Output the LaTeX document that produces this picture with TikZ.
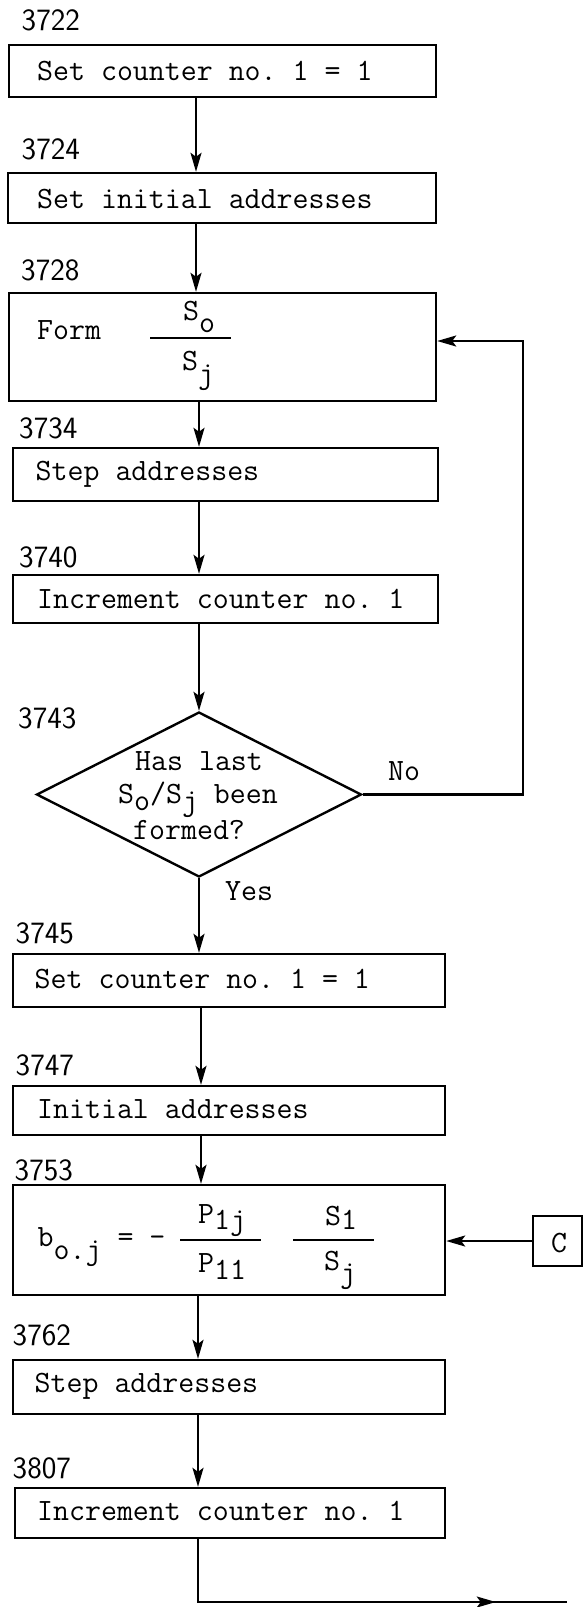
\documentclass[tikz,border=0pt]{standalone}
\usepackage{fontspec}
\usetikzlibrary{arrows.meta,shapes.geometric,decorations.markings}
\newcommand\lo[2][0.35em]{\raisebox{-#1}{#2}}
\begin{document}
\begin{tikzpicture}[x=1pt,y=-1pt,
  tt/.style={font=\fontsize{31}{34}\selectfont\ttfamily\frenchspacing, inner sep=0pt, anchor=base west},
  lbl/.style={font=\fontsize{31}{34}\selectfont\sffamily, inner sep=0pt, anchor=base west},
  ebox/.style={draw, line width=2.4pt, inner sep=0pt},
  arr/.style={line width=2.1pt, -{Stealth[length=19pt,width=11pt,inset=4pt]}},
  ln/.style={line width=2.1pt}]
\useasboundingbox (0,0) rectangle (584,1607);

% columns for the connectors
\coordinate (X1) at (196,0);
\coordinate (X2) at (199,0);
\coordinate (X3) at (201,0);
\coordinate (X4) at (198,0);

% labels
\node[lbl] (l1) at (21.5,30) {3722};
\node[lbl] (l2) at (21.5,159) {3724};
\node[lbl] (l3) at (21,280) {3728};
\node[lbl] (l4) at (19,438) {3734};
\node[lbl] (l5) at (19,567) {3740};
\node[lbl] (l6) at (18,728) {3743};
\node[lbl] (l7) at (15.5,943) {3745};
\node[lbl] (l8) at (15.5,1075) {3747};
\node[lbl] (l9) at (14.5,1180) {3753};
\node[lbl] (l10) at (12.5,1345) {3762};
\node[lbl] (l11) at (12.5,1478) {3807};

% boxes
\node[ebox, minimum width=427pt, minimum height=52pt] (b1) at (222.5,71) {};
\node[ebox, minimum width=428pt, minimum height=50pt] (b2) at (222,198) {};
\node[ebox, minimum width=427pt, minimum height=108pt] (b3) at (222.5,347) {};
\node[ebox, minimum width=425pt, minimum height=53pt] (b4) at (225.5,474.5) {};
\node[ebox, minimum width=425pt, minimum height=48pt] (b5) at (225.5,599) {};
\node[draw, diamond, line width=2.4pt, minimum width=325pt, minimum height=165pt, inner sep=0pt] (dia) at (199,794.5) {};
\node[ebox, minimum width=432pt, minimum height=53pt] (b6) at (229,980.5) {};
\node[ebox, minimum width=432pt, minimum height=49pt] (b7) at (229,1110.5) {};
\node[ebox, minimum width=432pt, minimum height=110pt] (b8) at (229,1240) {};
\node[ebox, minimum width=49pt, minimum height=50pt] (cbox) at (557.5,1241) {};
\node[ebox, minimum width=432pt, minimum height=54pt] (b9) at (229,1387) {};
\node[ebox, minimum width=430pt, minimum height=50pt] (b10) at (230,1513) {};

% box texts
\node[tt] (t1) at (37,80) {Set counter no. 1 = 1};
\node[tt] (t2) at (37,208) {Set initial addresses};
\node[tt] (t4) at (35.5,480) {Step addresses};
\node[tt] (t5) at (37,608) {Increment counter no. 1};
\node[tt] (t6) at (34.5,988) {Set counter no. 1 = 1};
\node[tt] (t7) at (37,1118) {Initial addresses};
\node[tt] (t9) at (34.5,1392) {Step addresses};
\node[tt] (t10) at (37,1520) {Increment counter no. 1};
\node[tt] (tc) at (551,1252) {C};

% contents of the Form box
\node[tt] (form) at (37,339) {Form};
\node[tt] (fnum) at (183,320) {S\lo[0.4em]{o}};
\node[tt] (fden) at (182,370) {S\lo[0.45em]{j}};
\draw[ln] (150,338) -- (231,338);

% contents of the diamond
\node[tt] (d1) at (135,770) {Has last};
\node[tt] (d2) at (118,803) {S\lo[0.25em]{o}/S\lo[0.25em]{j} been};
\node[tt] (d3) at (133,839) {formed?};

% contents of the formula box
\node[tt] (bo) at (37.5,1246) {b\lo[0.45em]{o.j} = -};
\node[tt] (pn) at (198,1223) {P\lo[0.2em]{1j}};
\node[tt] (pd) at (198,1272) {P\lo[0.23em]{11}};
\draw[ln] (180,1240) -- (261,1240);
\node[tt] (sn) at (325,1225) {S\lo[0.15em]{1}};
\node[tt] (sd) at (324,1270) {S\lo[0.4em]{j}};
\draw[ln] (293,1240) -- (374,1240);

% branch labels
\node[tt] (no) at (388,780) {No};
\node[tt] (yes) at (225,900) {Yes};

% connectors
\draw[arr] (b1.south -| X1) -- (b2.north -| X1);
\draw[arr] (b2.south -| X1) -- (b3.north -| X1);
\draw[arr] (b3.south -| X2) -- (b4.north -| X2);
\draw[arr] (b4.south -| X2) -- (b5.north -| X2);
\draw[arr] (b5.south -| X2) -- (dia.north);
\draw[arr] (dia.south) -- (b6.north -| dia.south);
\draw[arr] (b6.south -| X3) -- (b7.north -| X3);
\draw[arr] (b7.south -| X3) -- (b8.north -| X3);
\draw[arr] (b8.south -| X4) -- (b9.north -| X4);
\draw[arr] (b9.south -| X4) -- (b10.north -| X4);
\coordinate (lp) at (523,341);
\draw[arr] (dia.east) -| (lp) -- (b3.east |- lp);
\draw[arr] (cbox.west) -- (b8.east |- cbox.west);
\coordinate (fend) at (567,1602);
\draw[ln, postaction={decorate}, decoration={markings, mark=at position 0.835 with {\arrow{Stealth[length=19pt,width=11pt,inset=4pt]}}}]
  (b10.south -| X4) |- (fend);
\end{tikzpicture}
\end{document}
